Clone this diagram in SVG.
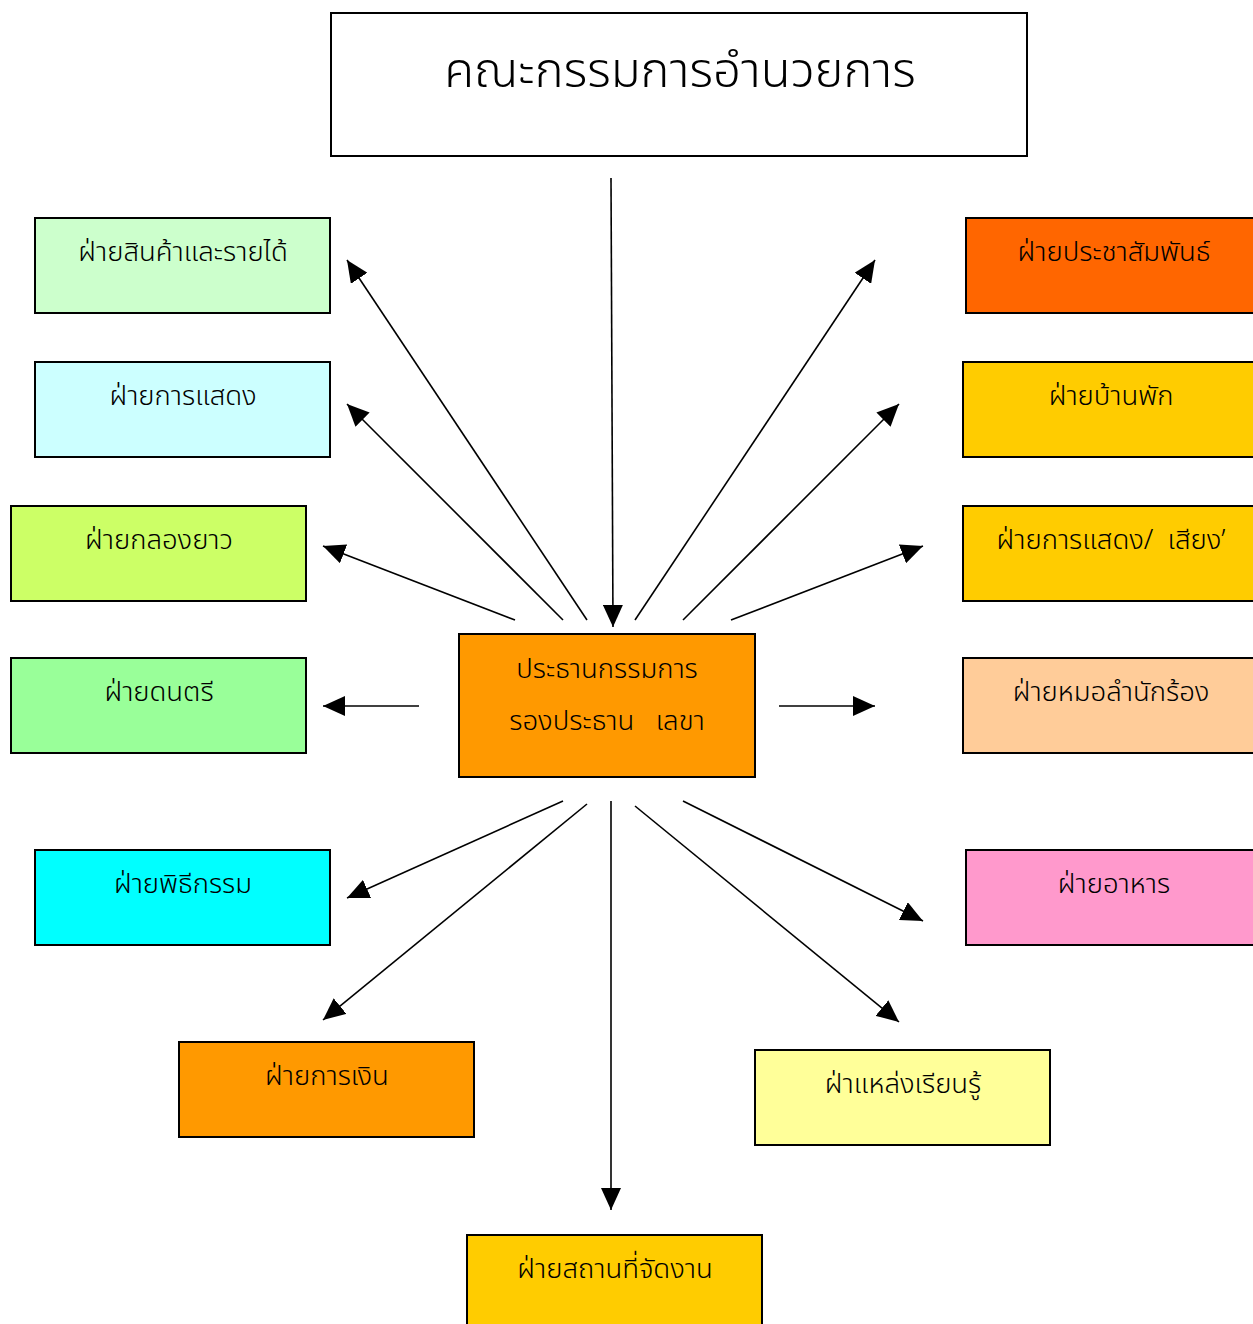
<svg xmlns="http://www.w3.org/2000/svg" width="1253" height="1324" viewBox="0 0 1253 1324">
<style>
.box{stroke:#000;stroke-width:2}
.t{font-family:"Noto Sans Thai","Noto Sans","DejaVu Sans",sans-serif;font-size:27.5px;font-weight:300;fill:#000;text-anchor:middle}
.title{font-size:49px}
.c{stroke:#000;stroke-width:1.6;fill:none;marker-end:url(#ah)}
</style>
<defs>
<marker id="ah" markerUnits="userSpaceOnUse" markerWidth="24" markerHeight="20" refX="22" refY="10" orient="auto">
<path d="M0,0 L22,10 L0,20 Z" fill="#000"/>
</marker>
</defs>
<rect width="1253" height="1324" fill="#fff"/>
<g id="connectors">
<line class="c" x1="611" y1="178" x2="613" y2="627"/>
<line class="c" x1="587" y1="620" x2="347" y2="260"/>
<line class="c" x1="563" y1="620" x2="347" y2="404"/>
<line class="c" x1="515" y1="620" x2="323" y2="546"/>
<line class="c" x1="419" y1="706" x2="323" y2="706"/>
<line class="c" x1="635" y1="620" x2="875" y2="260"/>
<line class="c" x1="683" y1="620" x2="899" y2="404"/>
<line class="c" x1="731" y1="620" x2="923" y2="546"/>
<line class="c" x1="779" y1="706" x2="875" y2="706"/>
<line class="c" x1="563" y1="801" x2="347" y2="898"/>
<line class="c" x1="587" y1="804" x2="323" y2="1020"/>
<line class="c" x1="611" y1="801" x2="611" y2="1210"/>
<line class="c" x1="635" y1="806" x2="899" y2="1022"/>
<line class="c" x1="683" y1="801" x2="923" y2="921"/>
</g>
<g id="n-top"><rect class="box" x="331" y="13" width="696" height="143" fill="#fff"/><text class="t title" x="680" y="87">คณะกรรมการอำนวยการ</text></g>
<g id="n-center"><rect class="box" x="459" y="634" width="296" height="143" fill="#FF9900"/><text class="t" x="607" y="678">ประธานกรรมการ</text><text class="t" x="607" y="730" xml:space="preserve">รองประธาน   เลขา</text></g>
<g id="n-sinka"><rect class="box" x="35" y="218" width="295" height="95" fill="#CCFFCC"/><text class="t" x="183" y="261">ฝ่ายสินค้าและรายได้</text></g>
<g id="n-kansadaeng"><rect class="box" x="35" y="362" width="295" height="95" fill="#CCFFFF"/><text class="t" x="183" y="405">ฝ่ายการแสดง</text></g>
<g id="n-klongyao"><rect class="box" x="11" y="506" width="295" height="95" fill="#CCFF66"/><text class="t" x="159" y="549">ฝ่ายกลองยาว</text></g>
<g id="n-dontri"><rect class="box" x="11" y="658" width="295" height="95" fill="#99FF99"/><text class="t" x="159" y="701">ฝ่ายดนตรี</text></g>
<g id="n-phithikam"><rect class="box" x="35" y="850" width="295" height="95" fill="#00FFFF"/><text class="t" x="183" y="893">ฝ่ายพิธีกรรม</text></g>
<g id="n-kanngoen"><rect class="box" x="179" y="1042" width="295" height="95" fill="#FF9900"/><text class="t" x="327" y="1085">ฝ่ายการเงิน</text></g>
<g id="n-sathanthi"><rect class="box" x="467" y="1235" width="295" height="100" fill="#FFCC00"/><text class="t" x="615" y="1278">ฝ่ายสถานที่จัดงาน</text></g>
<g id="n-laeng"><rect class="box" x="755" y="1050" width="295" height="95" fill="#FFFF99"/><text class="t" x="903" y="1093">ฝ่าแหล่งเรียนรู้</text></g>
<g id="n-pracha"><rect class="box" x="966" y="218" width="296" height="95" fill="#FF6600"/><text class="t" x="1114" y="261">ฝ่ายประชาสัมพันธ์</text></g>
<g id="n-banphak"><rect class="box" x="963" y="362" width="296" height="95" fill="#FFCC00"/><text class="t" x="1111" y="405">ฝ่ายบ้านพัก</text></g>
<g id="n-siang"><rect class="box" x="963" y="506" width="296" height="95" fill="#FFCC00"/><text class="t" x="1111" y="549" xml:space="preserve">ฝ่ายการแสดง/  เสียง’</text></g>
<g id="n-molam"><rect class="box" x="963" y="658" width="296" height="95" fill="#FFCC99"/><text class="t" x="1111" y="701">ฝ่ายหมอลำนักร้อง</text></g>
<g id="n-ahan"><rect class="box" x="966" y="850" width="296" height="95" fill="#FF99CC"/><text class="t" x="1114" y="893">ฝ่ายอาหาร</text></g>
</svg>
